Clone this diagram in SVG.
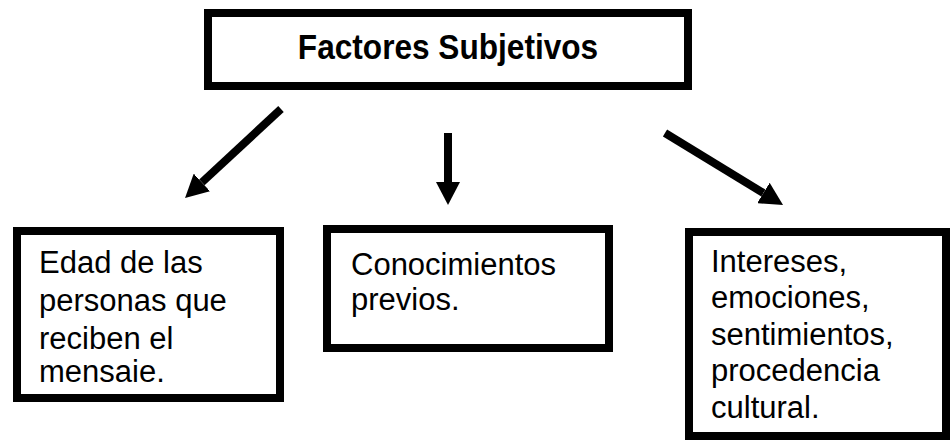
<svg xmlns="http://www.w3.org/2000/svg" width="950" height="441" viewBox="0 0 950 441">
<style>
.box{fill:#fff;stroke:#000;stroke-width:8}
.t{font-family:"Liberation Sans",Arial,sans-serif;font-size:31px;fill:#000}
.b{font-weight:bold;text-anchor:middle}
.c{stroke:#000;stroke-width:8;fill:none}
</style>
<defs>
<marker id="ah" markerUnits="userSpaceOnUse" markerWidth="23" markerHeight="24" refX="0" refY="12" orient="auto" viewBox="0 0 23 24">
<path d="M0,0 L23,12 L0,24 z" fill="#000"/>
</marker>
</defs>
<rect width="950" height="441" fill="#fff"/>
<g id="connectors">
<line class="c" x1="281" y1="109" x2="201.9" y2="182.4" marker-end="url(#ah)"/>
<line class="c" x1="448" y1="133" x2="448" y2="182" marker-end="url(#ah)"/>
<line class="c" x1="665" y1="133" x2="763.4" y2="193" marker-end="url(#ah)"/>
</g>
<g id="top">
<rect class="box" x="208" y="13" width="480" height="73"/>
<text class="t b" transform="translate(448,59) scale(1.02,1.12)" x="0" y="0">Factores Subjetivos</text>
</g>
<g id="edad">
<rect class="box" x="17" y="231" width="263" height="167"/>
<text class="t" x="39" y="273">Edad de las</text>
<text class="t" x="39" y="311">personas que</text>
<text class="t" x="39" y="349">reciben el</text>
<text class="t" x="39" y="382">mensaie.</text>
</g>
<g id="conocimientos">
<rect class="box" x="327" y="229" width="282" height="119"/>
<text class="t" x="351" y="275">Conocimientos</text>
<text class="t" x="351" y="310">previos.</text>
</g>
<g id="intereses">
<rect class="box" x="689" y="232" width="257" height="204"/>
<text class="t" x="711" y="272">Intereses,</text>
<text class="t" x="711" y="308">emociones,</text>
<text class="t" x="711" y="345">sentimientos,</text>
<text class="t" x="711" y="381">procedencia</text>
<text class="t" x="711" y="418">cultural.</text>
</g>
</svg>
